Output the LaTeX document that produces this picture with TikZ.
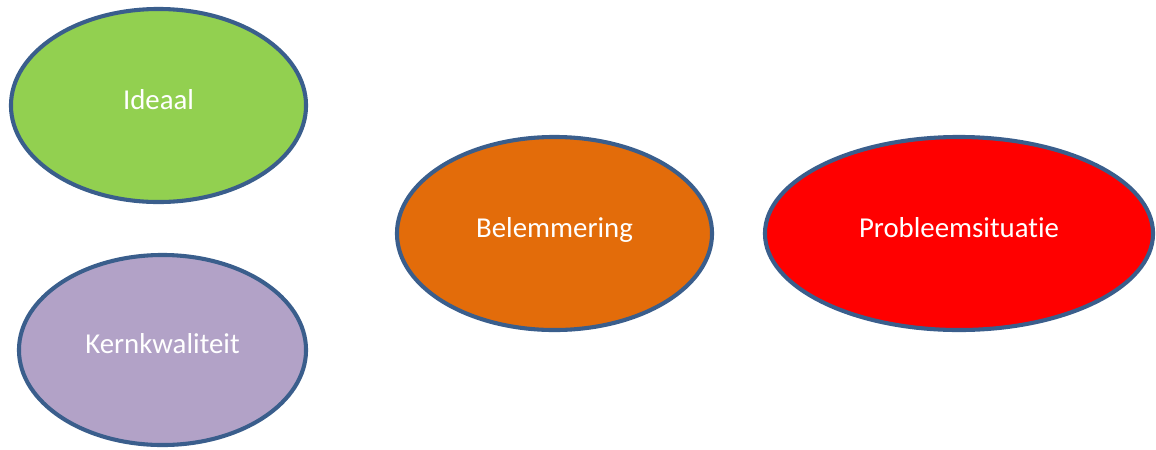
\documentclass[tikz,border=0pt]{standalone}
\usepackage{fontspec}
\setmainfont{Carlito}[Ligatures=NoCommon]
\usepackage{tikz}
\usetikzlibrary{shapes.geometric}
\usepackage{xcolor}

\definecolor{rimblue}{HTML}{3A5E8C}
\definecolor{idealgreen}{HTML}{92D050}
\definecolor{corepurple}{HTML}{B2A2C7}
\definecolor{blockorange}{HTML}{E36C0A}
\definecolor{problemred}{HTML}{FF0000}

\tikzset{
  bubble/.style={ellipse, draw=rimblue, line width=2.9pt, inner sep=0pt,
    text=white, font=\fontsize{20.5}{24}\selectfont,
    text height=14.2pt, text depth=9.2pt}
}

\begin{document}
\begin{tikzpicture}[x=0.025cm, y=-0.025cm]
  \useasboundingbox (0,0) rectangle (1156,449);
  % left column
  \node[bubble, fill=idealgreen, minimum width=7.375cm, minimum height=4.825cm]
    (ideaal) at (158.5,105.5) {Ideaal};
  \node[bubble, fill=corepurple, minimum width=7.175cm, minimum height=4.75cm]
    (kern) at (162.5,350) {Kernkwaliteit};
  % middle and right
  \node[bubble, fill=blockorange, minimum width=7.875cm, minimum height=4.825cm]
    (belem) at (554.5,233.5) {Belemmering};
  \node[bubble, fill=problemred, minimum width=9.7cm, minimum height=4.825cm]
    (probleem) at (959,233.5) {Probleemsituatie};
\end{tikzpicture}
\end{document}
